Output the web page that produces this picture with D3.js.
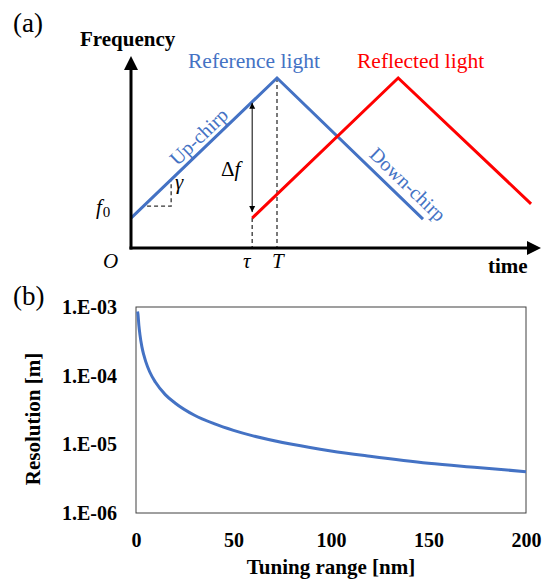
<!DOCTYPE html>
<html>
<head>
<meta charset="utf-8">
<script src="https://cdnjs.cloudflare.com/ajax/libs/d3/7.8.5/d3.min.js"></script>
<style>
  body { margin: 0; background: #fff; }
</style>
</head>
<body>
<div class="chart"></div>
<script>
// ---- panel (a) data : chirp sketch (time in units of T, frequency in units of peak) ----
var refTime = [0, 1, 2];
var refFreq = [0.176, 1, 0.17];
var reflTime = [0.83, 1.83, 2.74];
var reflFreq = [0.176, 1, 0.26];
var tauValue = 0.83;
var periodT = 1;

// ---- panel (b) data : resolution vs tuning range ----
var tuningRange = [0.8, 1, 1.5, 2, 3, 4, 5, 7, 10, 15, 20, 30, 40, 50, 60, 80, 100, 120, 150, 175, 200];
var resolution = [8.6e-4, 7.9e-4, 5.3e-4, 4.0e-4, 2.65e-4, 2.0e-4, 1.6e-4, 1.14e-4, 8.0e-5, 5.3e-5,
                  4.0e-5, 2.65e-5, 2.0e-5, 1.6e-5, 1.33e-5, 1.0e-5, 8.0e-6, 6.7e-6, 5.3e-6, 4.6e-6, 4.0e-6];
var xTicks = [0, 50, 100, 150, 200];
var yTicks = [1e-3, 1e-4, 1e-5, 1e-6];
var yTickLabels = ["1.E-03", "1.E-04", "1.E-05", "1.E-06"];

var svgWidth = 550;
var svgHeight = 581;
var blue = "#4472C4";
var red = "#FF0000";
var serif = "'Liberation Serif', 'Times New Roman', serif";

var svg = d3.select(".chart")
  .append("svg")
  .attr("width", svgWidth)
  .attr("height", svgHeight)
  .attr("font-family", serif);

var defs = svg.append("defs");
defs.append("marker")
  .attr("id", "head")
  .attr("viewBox", "0 0 10 10")
  .attr("refX", 10).attr("refY", 5)
  .attr("markerWidth", 6).attr("markerHeight", 9)
  .attr("markerUnits", "userSpaceOnUse")
  .attr("orient", "auto-start-reverse")
  .append("path")
  .attr("d", "M0,0L10,5L0,10Z")
  .attr("fill", "#000");

// ================= panel (a) =================
var xA = d3.scaleLinear().domain([0, 1]).range([131, 277]);
var yA = d3.scaleLinear().domain([0, 1]).range([248, 78]);

var panelA = svg.append("g").attr("font-family", serif);

panelA.append("text")
  .attr("x", 13).attr("y", 32)
  .attr("font-size", 27)
  .text("(a)");

// dashed guides
var dash = panelA.append("g")
  .attr("stroke", "#333")
  .attr("stroke-width", 1.3)
  .attr("stroke-dasharray", "4,3")
  .attr("fill", "none");
dash.append("line")
  .attr("x1", xA(periodT)).attr("x2", xA(periodT))
  .attr("y1", yA(1)).attr("y2", yA(0));
dash.append("line")
  .attr("x1", xA(tauValue)).attr("x2", xA(tauValue))
  .attr("y1", yA(reflFreq[0])).attr("y2", yA(0));
// slope triangle
var triT0 = 0.11, triT1 = 0.275;
var slope = (refFreq[1] - refFreq[0]) / (refTime[1] - refTime[0]);
var triF0 = refFreq[0] + slope * triT0 - 0.02;
dash.append("path")
  .attr("d", "M" + xA(triT0) + "," + yA(triF0) + "H" + xA(triT1) +
    "V" + yA(refFreq[0] + slope * triT1));

// lines
var lineA = d3.line().x(d => xA(d[0])).y(d => yA(d[1]));
panelA.append("path")
  .datum(d3.zip(refTime, refFreq))
  .attr("d", lineA)
  .attr("fill", "none")
  .attr("stroke", blue)
  .attr("stroke-width", 3);
panelA.append("path")
  .datum(d3.zip(reflTime, reflFreq))
  .attr("d", lineA)
  .attr("fill", "none")
  .attr("stroke", red)
  .attr("stroke-width", 3);

// axes with arrows
panelA.append("line")
  .attr("x1", xA(0)).attr("x2", xA(0))
  .attr("y1", yA(0) + 1.5).attr("y2", 68)
  .attr("stroke", "#000").attr("stroke-width", 3);
panelA.append("path")
  .attr("d", "M" + xA(0) + ",56l-7,14h14z")
  .attr("fill", "#000");
panelA.append("line")
  .attr("x1", xA(0) - 1.5).attr("x2", 529)
  .attr("y1", yA(0)).attr("y2", yA(0))
  .attr("stroke", "#000").attr("stroke-width", 3);
panelA.append("path")
  .attr("d", "M541," + yA(0) + "l-14,-7v14z")
  .attr("fill", "#000");

// delta f arrow
var refAtTau = refFreq[0] + slope * tauValue;
panelA.append("line")
  .attr("x1", xA(tauValue)).attr("x2", xA(tauValue))
  .attr("y1", yA(refAtTau) + 1).attr("y2", yA(reflFreq[0]) - 6)
  .attr("stroke", "#000").attr("stroke-width", 1)
  .attr("marker-start", "url(#head)")
  .attr("marker-end", "url(#head)");

// labels
panelA.append("text")
  .attr("x", 80).attr("y", 46)
  .attr("font-size", 21).attr("font-weight", "bold")
  .text("Frequency");
panelA.append("text")
  .attr("x", 488).attr("y", 273)
  .attr("font-size", 21).attr("font-weight", "bold")
  .text("time");
panelA.append("text")
  .attr("x", 188).attr("y", 68)
  .attr("font-size", 21.5).attr("fill", blue)
  .text("Reference light");
panelA.append("text")
  .attr("x", 357).attr("y", 68)
  .attr("font-size", 21.5).attr("fill", red)
  .text("Reflected light");

var ang = Math.atan2(yA(0) - yA(slope), xA(1) - xA(0)) * 180 / Math.PI;
var upT = 0.52;
panelA.append("text")
  .attr("transform", "translate(" + xA(upT) + "," + yA(refFreq[0] + slope * upT) + ") rotate(" + (-ang) + ")")
  .attr("y", -5)
  .attr("text-anchor", "middle")
  .attr("font-size", 20).attr("fill", blue)
  .text("Up-chirp");
var downT = 1.83;
panelA.append("text")
  .attr("transform", "translate(" + xA(downT) + "," + yA(1 - slope * (downT - 1)) + ") rotate(" + ang + ")")
  .attr("y", -7)
  .attr("text-anchor", "middle")
  .attr("font-size", 20).attr("fill", blue)
  .text("Down-chirp");

var math = panelA.append("g").attr("font-size", 21);
math.append("text").attr("x", 103).attr("y", 268).attr("font-style", "italic").text("O");
math.append("text").attr("x", 243).attr("y", 268).attr("font-style", "italic").text("τ");
math.append("text").attr("x", 272).attr("y", 268).attr("font-style", "italic").text("T");
math.append("text").attr("x", 175).attr("y", 189).attr("font-style", "italic").text("γ");
var f0 = math.append("text").attr("x", 96).attr("y", 214);
f0.append("tspan").attr("font-style", "italic").text("f");
f0.append("tspan").attr("font-size", 15).attr("dy", 3).attr("dx", 1).text("0");
var df = math.append("text").attr("x", 221).attr("y", 176);
df.append("tspan").text("Δ");
df.append("tspan").attr("font-style", "italic").text("f");

// ================= panel (b) =================
var xB = d3.scaleLinear().domain([0, 200]).range([136, 526]);
var yB = d3.scaleLog().domain([1e-6, 1e-3]).range([513, 307]);

var panelB = svg.append("g").attr("font-family", serif);

panelB.append("text")
  .attr("x", 13).attr("y", 305)
  .attr("font-size", 27)
  .text("(b)");

panelB.append("rect")
  .attr("x", xB(0)).attr("y", yB(1e-3))
  .attr("width", xB(200) - xB(0))
  .attr("height", yB(1e-6) - yB(1e-3))
  .attr("fill", "none")
  .attr("stroke", "#404040")
  .attr("stroke-width", 1);

var bottomAxis = d3.axisBottom(xB).tickValues(xTicks).tickSize(0).tickPadding(20);
var leftAxis = d3.axisLeft(yB).tickValues(yTicks).tickSize(0).tickPadding(19)
  .tickFormat((d, i) => yTickLabels[i]);

var xAxisG = panelB.append("g")
  .attr("transform", "translate(0," + yB(1e-6) + ")")
  .call(bottomAxis);
var yAxisG = panelB.append("g")
  .attr("transform", "translate(" + xB(0) + ",0)")
  .call(leftAxis);
[xAxisG, yAxisG].forEach(function(g) {
  g.attr("font-family", serif);
  g.select(".domain").remove();
  g.selectAll("text")
    .attr("font-size", 20)
    .attr("font-weight", "bold")
    .attr("fill", "#000");
});

var lineB = d3.line()
  .x(d => xB(d[0]))
  .y(d => yB(d[1]))
  .curve(d3.curveMonotoneX);
panelB.append("path")
  .datum(d3.zip(tuningRange, resolution))
  .attr("d", lineB)
  .attr("fill", "none")
  .attr("stroke", blue)
  .attr("stroke-width", 3);

panelB.append("text")
  .attr("x", (xB(0) + xB(200)) / 2).attr("y", 574)
  .attr("text-anchor", "middle")
  .attr("font-size", 21).attr("font-weight", "bold")
  .text("Tuning range [nm]");
panelB.append("text")
  .attr("transform", "translate(40,419) rotate(-90)")
  .attr("text-anchor", "middle")
  .attr("font-size", 21).attr("font-weight", "bold")
  .text("Resolution [m]");
</script>
</body>
</html>
